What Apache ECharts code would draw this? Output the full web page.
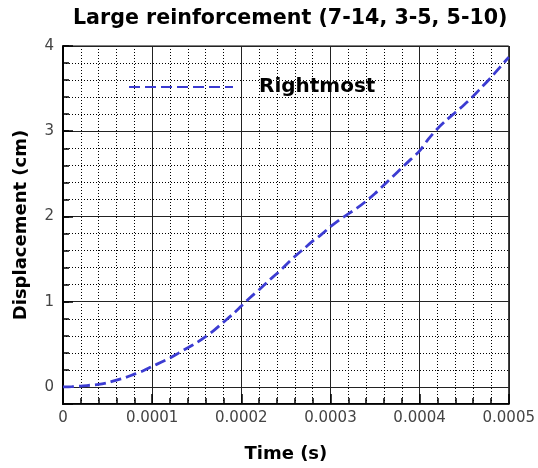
<!DOCTYPE html>
<html>
<head>
<meta charset="utf-8">
<script src="https://cdn.jsdelivr.net/npm/echarts@6/dist/echarts.min.js"></script>
<style>
  html, body { margin: 0; padding: 0; background: #fff; }
  #chart { width: 538px; height: 468px; }
</style>
</head>
<body>
<div id="chart"></div>
<script>
// Time samples (s) and displacement of the rightmost point (cm)
const timeValues = [
  0, 0.00001, 0.00002, 0.00003, 0.00004, 0.00005, 0.00006, 0.00007, 0.00008, 0.00009,
  0.0001, 0.00011, 0.00012, 0.00013, 0.00014, 0.00015, 0.00016, 0.00017, 0.00018, 0.00019,
  0.0002, 0.00021, 0.00022, 0.00023, 0.00024, 0.00025, 0.00026, 0.00027, 0.00028, 0.00029,
  0.0003, 0.00031, 0.00032, 0.00033, 0.00034, 0.00035, 0.00036, 0.00037, 0.00038, 0.00039,
  0.0004, 0.00041, 0.00042, 0.00043, 0.00044, 0.00045, 0.00046, 0.00047, 0.00048, 0.00049,
  0.0005
];
const rightmost = [
  0, 0.003, 0.01, 0.02, 0.03, 0.05, 0.08, 0.11, 0.15, 0.19,
  0.24, 0.29, 0.34, 0.40, 0.46, 0.52, 0.59, 0.67, 0.76, 0.85,
  0.95, 1.05, 1.14, 1.24, 1.33, 1.43, 1.53, 1.62, 1.71, 1.79,
  1.88, 1.96, 2.03, 2.10, 2.18, 2.27, 2.37, 2.47, 2.57, 2.67,
  2.77, 2.91, 3.03, 3.13, 3.22, 3.31, 3.41, 3.52, 3.63, 3.75,
  3.87
];
const xTickLabels = ['0', '0.0001', '0.0002', '0.0003', '0.0004', '0.0005'];
const yTickLabels = ['0', '1', '2', '3', '4'];

const BOLD_FONT = '"DejaVu Sans", Verdana, sans-serif';
const TICK_FONT = '"DejaVu Sans", Verdana, sans-serif';
const LINE_COLOR = '#3c3cd2';

const chart = echarts.init(document.getElementById('chart'), null, { renderer: 'canvas' });

const points = timeValues.map((t, i) => [t, rightmost[i]]);

chart.setOption({
  backgroundColor: '#ffffff',
  animation: false,
  title: {
    text: 'Large reinforcement (7-14, 3-5, 5-10)',
    left: 73,
    top: 8,
    padding: 0,
    textStyle: { fontFamily: BOLD_FONT, fontWeight: 'bold', fontSize: 20.6, color: '#000' }
  },
  legend: {
    data: ['Rightmost'],
    left: 128,
    top: 77,
    padding: 0,
    itemWidth: 104,
    itemHeight: 14,
    itemStyle: { opacity: 0 },
    textStyle: { fontFamily: BOLD_FONT, fontWeight: 'bold', fontSize: 20, color: '#000', padding: [0, 0, 0, 21] }
  },
  grid: {
    left: 63, right: 27, top: 46, bottom: 58,
    show: true, borderColor: '#000', borderWidth: 1, backgroundColor: 'transparent'
  },
  xAxis: {
    type: 'value',
    min: 0,
    max: 0.0005,
    interval: 0.0001,
    name: 'Time (s)',
    nameLocation: 'middle',
    nameGap: 41,
    nameTextStyle: { fontFamily: BOLD_FONT, fontWeight: 'bold', fontSize: 18, color: '#000' },
    axisLine: { show: true, onZero: false, lineStyle: { color: '#000', width: 2 } },
    axisTick: { show: true, inside: true, length: 10, lineStyle: { color: '#000', width: 1.5 } },
    minorTick: { show: true, splitNumber: 5, length: 6, lineStyle: { color: '#000', width: 1.5 } },
    splitLine: { show: true, lineStyle: { color: '#222', width: 1 } },
    minorSplitLine: { show: true, lineStyle: { color: '#000', width: 1, type: [1, 2] } },
    axisLabel: {
      margin: 7,
      fontFamily: TICK_FONT, fontSize: 15, color: '#444',
      formatter: (v) => xTickLabels[Math.round(v / 0.0001)] || ''
    }
  },
  yAxis: [
    {
      // integer ticks, solid grid, labels
      type: 'value',
      min: -0.2,
      max: 4,
      splitNumber: 5,
      name: 'Displacement (cm)',
      nameLocation: 'middle',
      nameGap: 33,
      nameTextStyle: { fontFamily: BOLD_FONT, fontWeight: 'bold', fontSize: 18, color: '#000' },
      axisLine: { show: true, onZero: false, lineStyle: { color: '#000', width: 2 } },
      axisTick: { show: true, inside: true, length: 10, lineStyle: { color: '#000', width: 1.5 } },
      splitLine: { show: true, lineStyle: { color: '#222', width: 1 } },
      axisLabel: {
        margin: 9,
        fontFamily: TICK_FONT, fontSize: 15, color: '#444',
        formatter: (v) => {
          const k = Math.round(v);
          return Math.abs(v - k) < 1e-6 && yTickLabels[k] !== undefined ? yTickLabels[k] : '';
        }
      },
      z: 3
    },
    {
      // 0.2 steps: dotted minor grid and short ticks
      type: 'value',
      position: 'left',
      min: -0.2,
      max: 4,
      interval: 0.2,
      axisLine: { show: false },
      axisTick: { show: true, inside: true, length: 6, lineStyle: { color: '#000', width: 1.5 } },
      splitLine: { show: true, lineStyle: { color: '#000', width: 1, type: [1, 2] } },
      axisLabel: { show: false },
      z: 2
    }
  ],
  series: [
    {
      name: 'Rightmost',
      type: 'line',
      data: points,
      yAxisIndex: 0,
      showSymbol: false,
      symbol: 'none',
      smooth: 0.3,
      lineStyle: { color: LINE_COLOR, width: 2.8, type: [11, 5] },
      itemStyle: { color: LINE_COLOR },
      z: 5
    }
  ]
});
</script>
</body>
</html>
